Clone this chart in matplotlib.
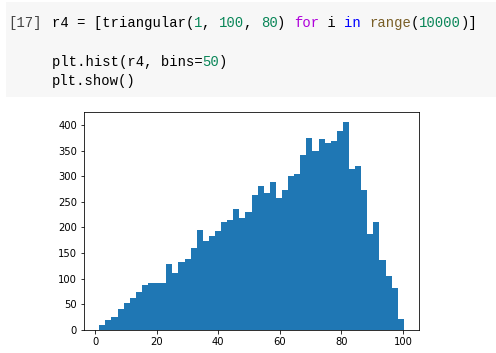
import numpy as np
import matplotlib
matplotlib.use('Agg')
import matplotlib.pyplot as plt
import matplotlib.patches as mpatches

# Datos (50 bins, triangular(1, 100, 80))
BIN_MIN = 1.3
BIN_MAX = 100.3
COUNTS = [10, 20, 25, 41, 53, 63, 74, 88, 92, 92,
          92, 129, 112, 133, 139, 159, 196, 174, 184, 194,
          211, 215, 237, 219, 231, 264, 280, 268, 288, 258,
          274, 300, 304, 341, 374, 349, 372, 364, 368, 388,
          405, 315, 319, 274, 188, 211, 137, 106, 82, 21]
X_TICKS = [0, 20, 40, 60, 80, 100]
Y_TICKS = [0, 50, 100, 150, 200, 250, 300, 350, 400]

# Celda de codigo (tokens, color)
CELL_LABEL = '[17]'
CODE_LINES = [
    [('r4 = [triangular(', '#000000'), ('1', '#098658'), (', ', '#000000'),
     ('100', '#098658'), (', ', '#000000'), ('80', '#098658'), (') ', '#000000'),
     ('for', '#af00db'), (' i ', '#000000'), ('in', '#0000ff'), (' ', '#000000'),
     ('range', '#795e26'), ('(', '#000000'), ('10000', '#098658'), (')]', '#000000')],
    [],
    [('plt.hist(r4, bins=', '#000000'), ('50', '#098658'), (')', '#000000')],
    [('plt.show()', '#000000')],
]

W, H = 496, 353
DPI = 72
BAR_COLOR = '#1f77b4'
CELL_BG = '#f7f7f7'
MONO = 'Liberation Mono'
CODE_SIZE = 13.9
CHAR_W = 8.35  # px por caracter


def px(x, y):
    """pixeles (origen arriba-izquierda) -> fraccion de figura"""
    return x / W, 1 - y / H


fig = plt.figure(figsize=(W / DPI, H / DPI), dpi=DPI)
fig.patch.set_facecolor('white')

# Fondo gris de la celda
x0, y0 = px(6, 97)
fig.patches.append(mpatches.Rectangle((x0, y0), 1 - x0, (97 - 2) / H,
                                      transform=fig.transFigure,
                                      facecolor=CELL_BG, edgecolor='none'))

fx, fy = px(8, 27)
fig.text(fx, fy, CELL_LABEL, family=MONO, fontsize=CODE_SIZE,
         color='#444444', va='baseline', ha='left')

baselines = [27, 46, 66, 84.5]
for line, base in zip(CODE_LINES, baselines):
    col = 0
    for tok, color in line:
        tx, ty = px(52 + col * CHAR_W, base)
        fig.text(tx, ty, tok, family=MONO, fontsize=CODE_SIZE,
                 color=color, va='baseline', ha='left')
        col += len(tok)

# Histograma
edges = np.linspace(BIN_MIN, BIN_MAX, len(COUNTS) + 1)
ax = fig.add_axes([84 / W, 1 - 330 / H, (419 - 84) / W, (330 - 112) / H])
ax.hist(edges[:-1], bins=edges, weights=COUNTS, color=BAR_COLOR,
        histtype='stepfilled')
ax.set_xticks(X_TICKS)
ax.set_yticks(Y_TICKS)
ax.tick_params(labelsize=10)

fig.savefig('out.png', dpi=DPI)
